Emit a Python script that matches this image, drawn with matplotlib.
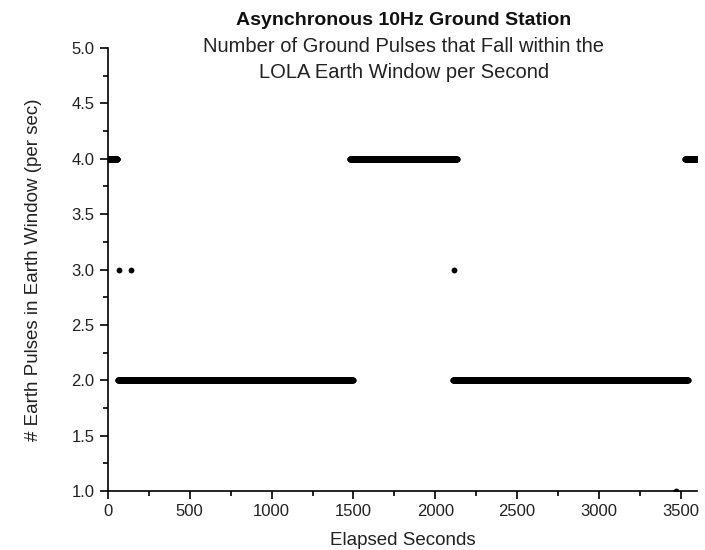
import matplotlib
matplotlib.use('Agg')
import matplotlib.pyplot as plt
import numpy as np
from matplotlib.ticker import MultipleLocator

# run-length table of pulses per second: [start, end] seconds and the count held over that run
run_start = [0, 60, 68, 141, 1478, 2108, 2115, 3470, 3525]
run_end = [58, 1497, 68, 141, 2132, 3543, 2115, 3470, 3600]
run_value = [4, 2, 3, 3, 4, 2, 3, 1, 4]

# expand the runs into one sample per second
secs = []
counts = []
for s, e, v in zip(run_start, run_end, run_value):
    t = np.arange(s, e + 1)
    secs.extend(t)
    counts.extend([v] * len(t))

plt.rcParams['font.family'] = ['Liberation Sans', 'DejaVu Sans']

fig = plt.figure(figsize=(7.05, 5.5), dpi=100)
ax = fig.add_axes([0.153, 0.107, 0.836, 0.806])

ax.plot(secs, counts, 'o', color='black', markersize=4.2, markeredgewidth=0)

ax.set_xlim(0, 3600)
ax.set_ylim(1.0, 5.0)
ax.xaxis.set_major_locator(MultipleLocator(500))
ax.xaxis.set_minor_locator(MultipleLocator(250))
ax.yaxis.set_major_locator(MultipleLocator(0.5))
ax.yaxis.set_minor_locator(MultipleLocator(0.25))
ax.set_yticklabels([f'{v:.1f}' for v in ax.get_yticks()])

ax.spines['top'].set_visible(False)
ax.spines['right'].set_visible(False)
for sp in ('left', 'bottom'):
    ax.spines[sp].set_linewidth(1.2)
ax.tick_params(which='major', direction='out', length=6, width=1.2, labelsize=12,
               labelcolor='#222222')
ax.tick_params(which='minor', direction='out', length=3.5, width=1.2)

ax.set_xlabel('Elapsed Seconds', fontsize=13.5, labelpad=9, color='#222222')
ax.set_ylabel('# Earth Pulses in Earth Window (per sec)', fontsize=13.5, labelpad=21,
              color='#222222')

fig.text(0.573, 0.963, 'Asynchronous 10Hz Ground Station', ha='center', va='center',
         fontsize=14, fontweight='bold', color='#111111')
fig.text(0.573, 0.916, 'Number of Ground Pulses that Fall within the', ha='center',
         va='center', fontsize=14.5, color='#222222')
fig.text(0.573, 0.869, 'LOLA Earth Window per Second', ha='center', va='center',
         fontsize=14.5, color='#222222')

fig.savefig('out.png', dpi=100)
